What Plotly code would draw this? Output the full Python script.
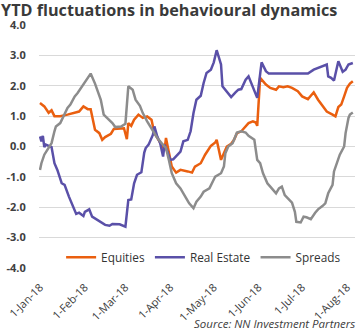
import plotly.graph_objects as go

title_text = "YTD fluctuations in behavioural dynamics"
source_text = "Source: NN Investment Partners"

eq_dates = ["2018-01-01","2018-01-04","2018-01-07","2018-01-09","2018-01-11","2018-01-15","2018-01-20",
            "2018-01-25","2018-01-28","2018-01-31","2018-02-03","2018-02-05","2018-02-08","2018-02-11",
            "2018-02-13","2018-02-15","2018-02-19","2018-02-21","2018-02-26","2018-02-28","2018-03-02",
            "2018-03-03","2018-03-05","2018-03-07","2018-03-10","2018-03-13","2018-03-16","2018-03-19",
            "2018-03-21","2018-03-24","2018-03-28","2018-03-29","2018-03-31","2018-04-02","2018-04-05",
            "2018-04-08","2018-04-13","2018-04-16","2018-04-18","2018-04-22","2018-04-25","2018-04-29",
            "2018-05-02","2018-05-03","2018-05-06","2018-05-09","2018-05-10","2018-05-13","2018-05-15",
            "2018-05-17","2018-05-20","2018-05-22","2018-05-25","2018-05-28","2018-05-30","2018-05-31",
            "2018-06-02","2018-06-06","2018-06-09","2018-06-13","2018-06-15","2018-06-18","2018-06-21",
            "2018-06-24","2018-06-28","2018-07-01","2018-07-05","2018-07-07","2018-07-09","2018-07-12",
            "2018-07-15","2018-07-18","2018-07-22","2018-07-24","2018-07-26","2018-07-28","2018-07-30",
            "2018-08-01","2018-08-03","2018-08-05"]
eq_vals = [1.43,1.32,1.11,1.19,1.00,1.00,1.05,
           1.12,1.15,1.32,1.23,1.23,0.55,0.44,
           0.22,0.31,0.42,0.58,0.58,0.60,0.24,
           0.77,0.68,0.88,1.05,0.94,0.99,0.88,
           0.44,0.22,-0.11,0.28,-0.22,-0.66,-0.86,
           -0.77,-0.82,-0.86,-0.66,-0.55,-0.27,0.02,
           0.13,0.22,-0.44,-0.11,0.00,0.09,0.22,
           0.44,0.50,0.61,0.77,0.83,0.79,0.68,
           2.26,2.04,1.93,1.87,1.98,1.95,1.98,
           1.93,1.82,1.65,1.56,1.67,1.78,1.54,
           1.34,1.15,1.05,0.99,1.30,1.38,1.65,
           1.93,2.07,2.15]

re_dates = ["2018-01-01","2018-01-02","2018-01-03","2018-01-04","2018-01-05","2018-01-09","2018-01-11",
            "2018-01-13","2018-01-16","2018-01-18","2018-01-21","2018-01-24","2018-01-26","2018-01-28",
            "2018-01-31","2018-02-01","2018-02-04","2018-02-06","2018-02-10","2018-02-13","2018-02-15",
            "2018-02-18","2018-02-20","2018-02-25","2018-03-01","2018-03-03","2018-03-05","2018-03-07",
            "2018-03-09","2018-03-12","2018-03-14","2018-03-15","2018-03-17","2018-03-20","2018-03-21",
            "2018-03-23","2018-03-25","2018-03-27","2018-03-28","2018-03-30","2018-04-01","2018-04-03",
            "2018-04-06","2018-04-08","2018-04-10","2018-04-13","2018-04-15","2018-04-17","2018-04-19",
            "2018-04-22","2018-04-24","2018-04-26","2018-04-29","2018-05-01","2018-05-03","2018-05-06",
            "2018-05-07","2018-05-09","2018-05-13","2018-05-16","2018-05-18","2018-05-20","2018-05-23",
            "2018-05-25","2018-05-26","2018-05-29","2018-05-31","2018-06-03","2018-06-06","2018-06-08",
            "2018-07-05","2018-07-09","2018-07-12","2018-07-15","2018-07-18","2018-07-19","2018-07-21",
            "2018-07-23","2018-07-26","2018-07-29","2018-07-31","2018-08-02","2018-08-05"]
re_vals = [0.33,0.17,0.35,-0.02,0.06,-0.02,-0.55,
           -0.77,-1.21,-1.26,-1.65,-1.98,-2.22,-2.18,
           -2.29,-2.15,-2.07,-2.31,-2.42,-2.50,-2.58,
           -2.61,-2.55,-2.56,-2.64,-1.76,-1.74,-1.21,
           -0.93,-0.85,-0.20,-0.05,0.06,0.39,0.66,
           0.33,0.11,-0.33,0.06,-0.17,-0.44,-0.42,
           -0.27,-0.17,0.17,0.22,0.50,1.10,1.54,
           1.67,2.09,2.42,2.53,2.77,3.17,2.70,
           1.98,1.85,1.63,1.78,1.87,1.89,2.20,
           2.31,2.20,1.87,1.60,2.77,2.48,2.40,
           2.40,2.53,2.59,2.64,2.70,2.31,2.26,
           2.17,2.81,2.46,2.53,2.70,2.75]

sp_dates = ["2018-01-01","2018-01-02","2018-01-04","2018-01-07","2018-01-09","2018-01-11","2018-01-12",
            "2018-01-15","2018-01-18","2018-01-20","2018-01-22","2018-01-25","2018-01-27","2018-01-30",
            "2018-02-01","2018-02-03","2018-02-05","2018-02-08","2018-02-10","2018-02-12","2018-02-14",
            "2018-02-18","2018-02-20","2018-02-22","2018-02-26","2018-03-01","2018-03-03","2018-03-06",
            "2018-03-08","2018-03-11","2018-03-13","2018-03-16","2018-03-20","2018-03-23","2018-03-26",
            "2018-03-29","2018-03-31","2018-04-02","2018-04-05","2018-04-08","2018-04-12","2018-04-14",
            "2018-04-17","2018-04-19","2018-04-22","2018-04-24","2018-04-28","2018-04-30","2018-05-02",
            "2018-05-06","2018-05-08","2018-05-09","2018-05-11","2018-05-14","2018-05-16","2018-05-17",
            "2018-05-20","2018-05-23","2018-05-25","2018-05-29","2018-05-31","2018-06-02","2018-06-04",
            "2018-06-07","2018-06-09","2018-06-13","2018-06-15","2018-06-17","2018-06-19","2018-06-22",
            "2018-06-24","2018-06-26","2018-06-27","2018-06-30","2018-07-02","2018-07-04","2018-07-07",
            "2018-07-10","2018-07-12","2018-07-15","2018-07-17","2018-07-19","2018-07-22","2018-07-23",
            "2018-07-25","2018-07-27","2018-07-30","2018-07-31","2018-08-02","2018-08-03","2018-08-05"]
sp_vals = [-0.77,-0.55,-0.27,-0.05,0.11,0.50,0.66,
           0.77,1.10,1.27,1.38,1.65,1.76,1.98,
           2.09,2.26,2.40,2.07,1.82,1.54,1.05,
           0.88,0.77,0.64,0.66,0.75,1.98,1.87,
           1.54,1.34,1.10,0.83,0.50,0.28,0.11,
           -0.05,-0.44,-0.88,-1.21,-1.38,-1.71,-1.87,
           -2.03,-1.82,-1.65,-1.49,-1.38,-1.21,-0.99,
           -0.88,-0.66,-0.22,0.00,0.11,0.39,0.46,
           0.50,0.46,0.35,0.22,-0.44,-0.55,-0.88,
           -1.21,-1.32,-1.54,-1.38,-1.32,-1.60,-1.76,
           -1.85,-2.15,-2.48,-2.50,-2.31,-2.33,-2.39,
           -2.18,-2.07,-1.96,-1.87,-1.54,-1.26,-0.82,
           -0.55,-0.27,0.00,0.44,0.94,1.05,1.12]

series_names = ["Equities", "Real Estate", "Spreads"]
series_colors = ["#EA5F0F", "#5A50A8", "#8C8C8C"]

y_ticks = [-4, -3, -2, -1, 0, 1, 2, 3, 4]
y_tick_labels = ["-4.0", "-3.0", "-2.0", "-1.0", "0.0", "1.0", "2.0", "3.0", "4.0"]
x_ticks = ["2018-01-01","2018-02-01","2018-03-01","2018-04-01","2018-05-01","2018-06-01","2018-07-01","2018-08-01"]
x_tick_labels = ["1-Jan-18","1-Feb-18","1-Mar-18","1-Apr-18","1-May-18","1-Jun-18","1-Jul-18","1-Aug-18"]

fig = go.Figure()
for name, color, xs, ys in zip(series_names, series_colors,
                               [eq_dates, re_dates, sp_dates], [eq_vals, re_vals, sp_vals]):
    fig.add_trace(go.Scatter(x=xs, y=ys, name=name, mode="lines",
                             line=dict(color=color, width=2.5)))

fig.update_layout(
    width=358, height=334,
    margin=dict(l=39, r=3, t=25, b=66, pad=0),
    paper_bgcolor="white", plot_bgcolor="white",
    font=dict(family="Open Sans, Arial, sans-serif", color="#404040"),
    title=dict(text="<b>" + title_text + "</b>", x=0.003, xanchor="left", y=0.985, yanchor="top",
               pad=dict(t=0, l=0, r=0, b=0),
               font=dict(size=16.2, color="#3A3A3A")),
    showlegend=True,
    legend=dict(orientation="h", x=0.07, xanchor="left", y=0.044, yanchor="middle",
                font=dict(size=11.8, color="#333333"), bgcolor="rgba(0,0,0,0)",
                itemwidth=30, tracegroupgap=0),
    xaxis=dict(type="date", range=["2017-12-31 08:00", "2018-08-06 12:00"],
               tickvals=x_ticks, ticktext=x_tick_labels, tickangle=-45,
               showgrid=False, zeroline=False, showline=False,
               ticks="", ticklabelstandoff=10,
               tickfont=dict(size=11, color="#404040")),
    yaxis=dict(range=[-4, 4], tickvals=y_ticks, ticktext=y_tick_labels,
               showgrid=True, gridcolor="#D9D9D9", gridwidth=1.2, zeroline=False, showline=False,
               ticks="outside", ticklen=10, tickcolor="rgba(0,0,0,0)",
               tickfont=dict(size=11, color="#404040", weight="bold")),
    annotations=[dict(text="<i>" + source_text + "</i>", xref="paper", yref="paper",
                      x=1.005, xanchor="right", y=-0.19, yanchor="top", showarrow=False,
                      font=dict(size=11.5, color="#404040"))],
)

fig.write_html("out.html")
